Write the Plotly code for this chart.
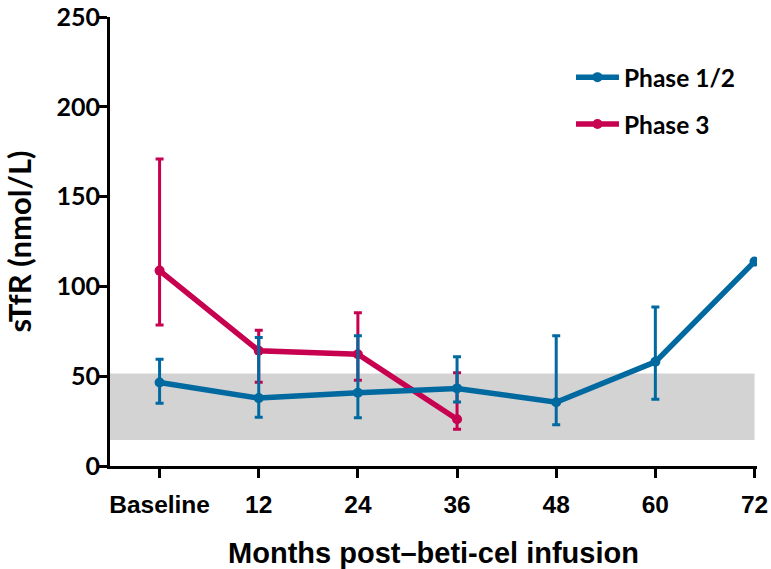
import plotly.graph_objects as go

# Time points (months after infusion; 0 = baseline)
months = [0, 12, 24, 36, 48, 60, 72]
tick_text = ["Baseline", "12", "24", "36", "48", "60", "72"]

# Phase 1/2 sTfR (nmol/L) with asymmetric error bars
p12_x = [0, 12, 24, 36, 48, 60, 72]
p12_y = [46.5, 37.8, 40.8, 43.2, 35.5, 58.0, 113.8]
p12_hi = [59.5, 71.5, 72.5, 60.8, 72.5, 88.5, None]
p12_lo = [35.0, 27.2, 26.8, 35.6, 22.9, 37.2, None]

# Phase 3 sTfR (nmol/L)
p3_x = [0, 12, 24, 36]
p3_y = [108.8, 64.2, 62.2, 26.0]
p3_hi = [171.0, 75.6, 85.3, 51.9]
p3_lo = [78.5, 46.7, 47.8, 20.5]

# Normal reference range for sTfR (nmol/L)
ref_range = [14.5, 51.5]

BLUE = "#0069A0"
RED = "#C7004F"


def err(y, hi, lo):
    plus = [(h - v) if h is not None else 0 for v, h in zip(y, hi)]
    minus = [(v - l) if l is not None else 0 for v, l in zip(y, lo)]
    return plus, minus


fig = go.Figure()

# reference band
fig.add_shape(type="rect", xref="x", yref="y", x0=-6, x1=72,
              y0=ref_range[0], y1=ref_range[1],
              fillcolor="#D3D3D3", line_width=0, layer="below")

p3_plus, p3_minus = err(p3_y, p3_hi, p3_lo)
fig.add_trace(go.Scatter(
    x=p3_x, y=p3_y, name="Phase 3", mode="lines+markers",
    line=dict(color=RED, width=5.5), marker=dict(color=RED, size=10),
    error_y=dict(type="data", symmetric=False, array=p3_plus,
                 arrayminus=p3_minus, color=RED, thickness=3, width=4),
    legendgroup="b", legendrank=2,
))

p12_plus, p12_minus = err(p12_y, p12_hi, p12_lo)
fig.add_trace(go.Scatter(
    x=p12_x, y=p12_y, name="Phase 1/2", mode="lines+markers",
    line=dict(color=BLUE, width=5.5), marker=dict(color=BLUE, size=10),
    error_y=dict(type="data", symmetric=False, array=p12_plus,
                 arrayminus=p12_minus, color=BLUE, thickness=3, width=4),
    legendgroup="a", legendrank=1,
))

narrow = "Liberation Sans, Arial, sans-serif"
calib = "Lato, Open Sans, sans-serif"

fig.update_layout(
    width=771, height=569,
    margin=dict(l=110, r=14, t=17, b=103),
    plot_bgcolor="white", paper_bgcolor="white",
    showlegend=True,
    legend=dict(x=0.7125, y=0.916, xanchor="left", yanchor="top",
                traceorder="grouped", tracegroupgap=12, itemwidth=43,
                font=dict(family=calib, size=24.5, color="black", weight="bold"),
                bgcolor="rgba(0,0,0,0)"),
    xaxis=dict(
        range=[-6, 72.3], tickmode="array", tickvals=months, ticktext=tick_text,
        automargin=False, ticklabelstandoff=6,
        showline=True, linecolor="black", linewidth=3, mirror=False,
        ticks="outside", ticklen=9, tickwidth=3, tickcolor="black",
        showgrid=False, zeroline=False,
        tickfont=dict(family=narrow, size=24.5, color="black", weight="bold"),
        title=dict(text="Months post\u2013beti-cel infusion", standoff=42,
                   font=dict(family=narrow, size=29, color="black", weight="bold")),
    ),
    yaxis=dict(
        range=[0, 250], tickmode="array", tickvals=[0, 50, 100, 150, 200, 250],
        automargin=False, ticklabelstandoff=-6,
        showline=True, linecolor="black", linewidth=3,
        ticks="outside", ticklen=8, tickwidth=3, tickcolor="black",
        showgrid=False, zeroline=False,
        tickfont=dict(family=calib, size=25, color="black", weight="bold"),
        title=dict(text="sTfR (nmol/L)", standoff=16,
                   font=dict(family=calib, size=31, color="black", weight="bold")),
    ),
)

fig.write_html("out.html")
